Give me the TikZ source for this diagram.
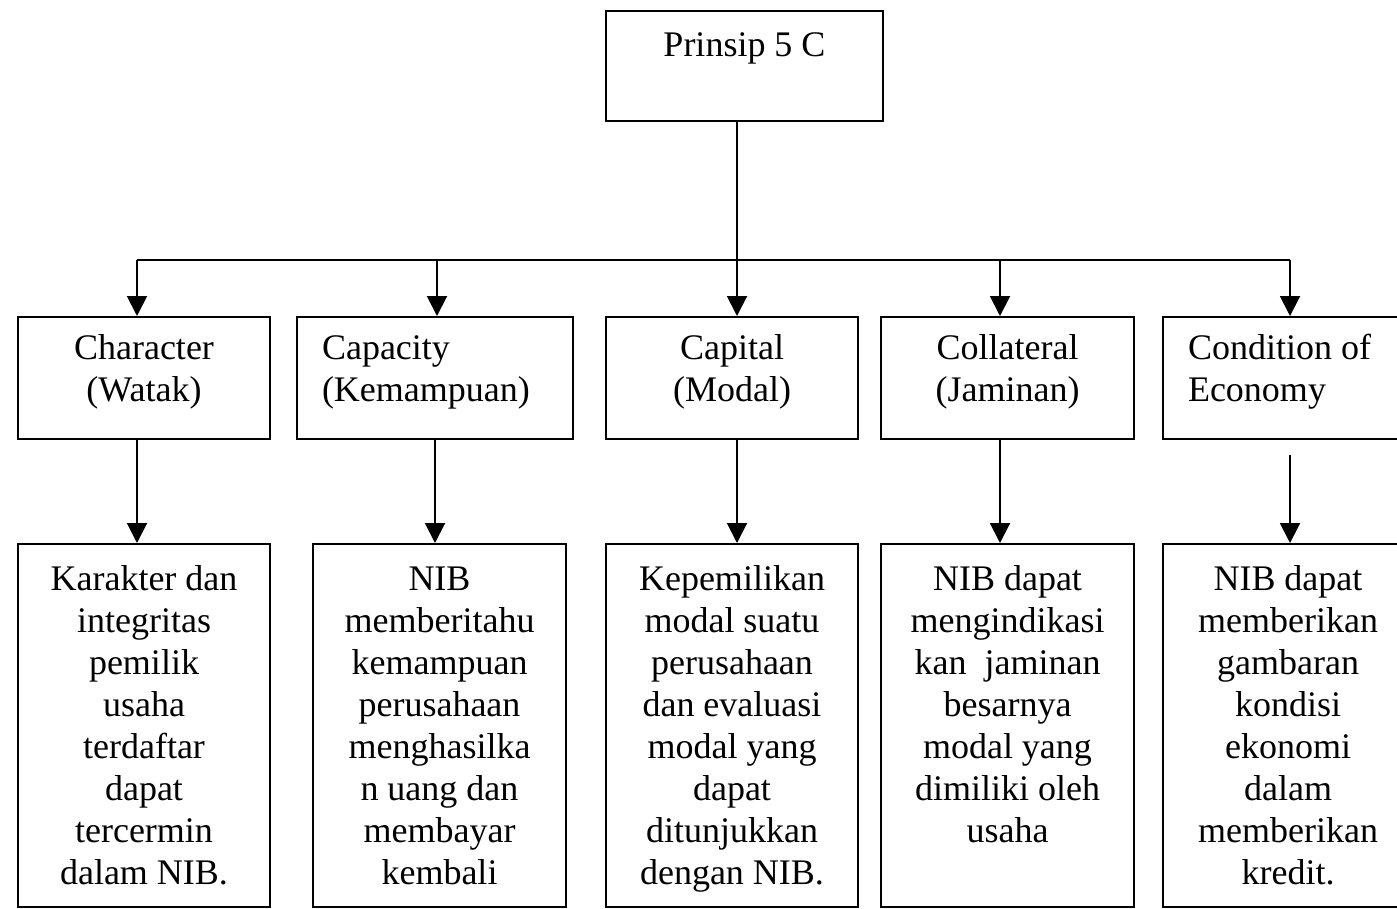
\documentclass[tikz,border=0pt]{standalone}
\usepackage{fontspec}
\setmainfont{Liberation Serif}
\usetikzlibrary{arrows.meta}
% text block in a box: width, height, top gap, text
\newcommand{\isikotak}[4]{\parbox[t][#2][t]{#1}{\fontsize{36}{42}\selectfont\vspace*{#3}#4}}

\begin{document}
\begin{tikzpicture}[x=1pt, y=-1pt, >={Triangle[length=20pt, width=20pt]},
    kotak/.style={draw, line width=2pt, inner sep=0pt, anchor=north west},
    garis/.style={line width=2pt}]
  \useasboundingbox (0,0) rectangle (1397,908);

  % top box
  \node[kotak] (prinsip) at (605,10) {\isikotak{277pt}{110pt}{15.6pt}{\centering\strut Prinsip 5 C}};

  % the five C
  \node[kotak] (watak) at (17,316) {\isikotak{252pt}{122pt}{12.6pt}{\centering\strut Character\\(Watak)}};
  \node[kotak] (kemampuan) at (296,316) {\isikotak{276pt}{122pt}{12.6pt}{\raggedright\leftskip=25pt\strut Capacity\\(Kemampuan)}};
  \node[kotak] (modal) at (605,316) {\isikotak{252pt}{122pt}{12.6pt}{\centering\strut Capital\\(Modal)}};
  \node[kotak] (jaminan) at (880,316) {\isikotak{253pt}{122pt}{12.6pt}{\centering\strut Collateral\\(Jaminan)}};
  \node[kotak] (kondisi) at (1162,316) {\isikotak{250pt}{122pt}{12.6pt}{\raggedright\leftskip=25pt\strut Condition of\\Economy}};

  % descriptions
  \node[kotak] (karakter) at (17,543) {\isikotak{252pt}{363pt}{16.6pt}{\centering\strut Karakter dan\\integritas\\pemilik\\usaha\\terdaftar\\dapat\\tercermin\\dalam NIB.}};
  \node[kotak] (nibbayar) at (312,543) {\isikotak{253pt}{363pt}{16.6pt}{\centering\strut NIB\\memberitahu\\kemampuan\\perusahaan\\menghasilka\\n uang dan\\membayar\\kembali}};
  \node[kotak] (milik) at (605,543) {\isikotak{252pt}{363pt}{16.6pt}{\centering\strut Kepemilikan\\modal suatu\\perusahaan\\dan evaluasi\\modal yang\\dapat\\ditunjukkan\\dengan NIB.}};
  \node[kotak] (indikasi) at (880,543) {\isikotak{253pt}{363pt}{16.6pt}{\centering\strut NIB dapat\\mengindikasi\\kan~ jaminan\\besarnya\\modal yang\\dimiliki oleh\\usaha}};
  \node[kotak] (kredit) at (1162,543) {\isikotak{250pt}{363pt}{16.6pt}{\centering\strut NIB dapat\\memberikan\\gambaran\\kondisi\\ekonomi\\dalam\\memberikan\\kredit.}};

  % branch line
  \coordinate (kiri) at (137,260);
  \coordinate (kanan) at (1290,260);
  \coordinate (cabang) at (737,260);
  \draw[line width=1.6pt] (kiri) -- (kanan);
  \draw[garis, ->] (prinsip.south -| cabang) -- (modal.north -| cabang);
  \foreach \x/\n in {137/watak, 437/kemampuan, 1000/jaminan, 1290/kondisi}
    \draw[garis, ->] (\x,260) -- (\n.north -| \x,0);

  % down to the descriptions
  \foreach \a/\b/\x in {watak/karakter/137, kemampuan/nibbayar/435, modal/milik/737, jaminan/indikasi/1000}
    \draw[garis, ->] (\a.south -| \x,0) -- (\b.north -| \x,0);
  \coordinate (bawah) at (1290,455);
  \draw[garis, ->] (bawah) -- (kredit.north -| bawah);
\end{tikzpicture}
\end{document}
